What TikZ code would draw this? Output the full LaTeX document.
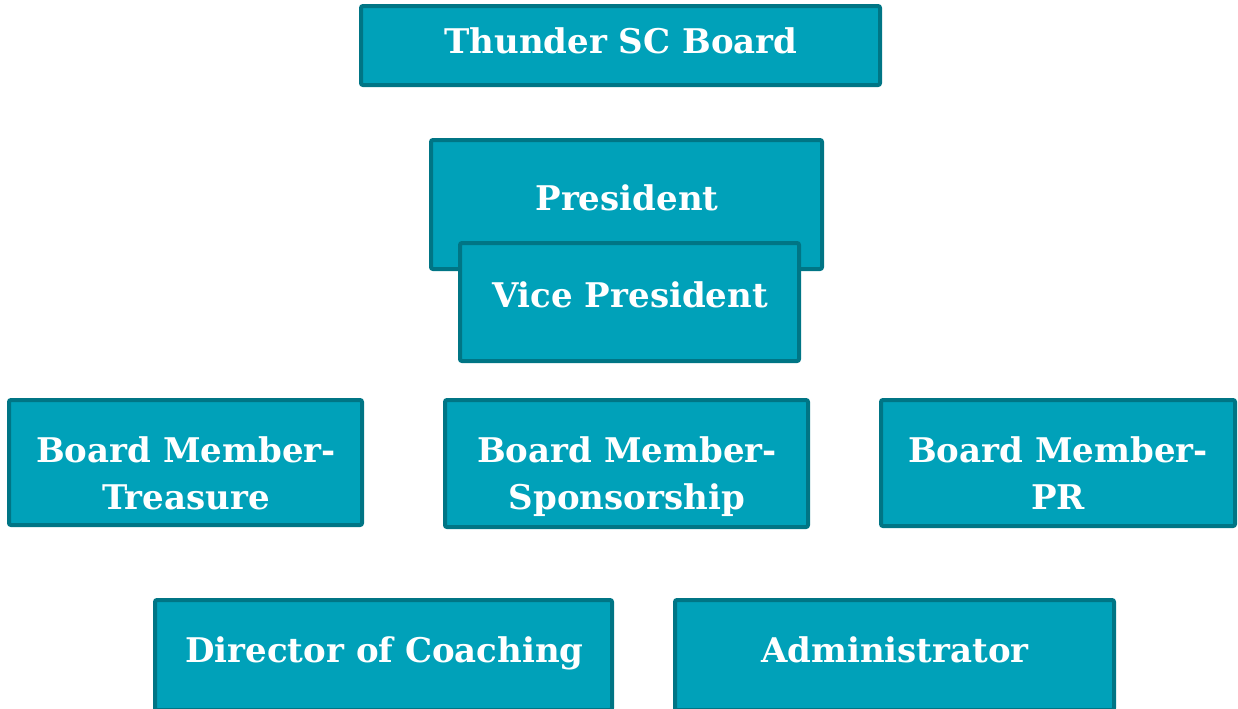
\documentclass[tikz,border=0pt]{standalone}
\usepackage{fontspec}
\setmainfont{DejaVu Serif}
\definecolor{boxfill}{HTML}{00A1B9}
\definecolor{boxline}{HTML}{007585}
\tikzset{
  orgbox/.style={draw=boxline, fill=boxfill, line width=2pt, rounded corners=1pt},
  orgtext/.style={text=white, font=\bfseries\fontsize{17}{23.5}\selectfont, align=center, anchor=base, inner sep=0pt}
}
\begin{document}
\begin{tikzpicture}[x=0.5pt, y=-0.5pt]
      \useasboundingbox (0,0) rectangle (1238,708);
      %
      \node[orgbox, minimum width=259.5pt, minimum height=39.5pt] (board) at (620.5,45.5) {};
      \node[orgbox, minimum width=195.5pt, minimum height=64.5pt] (pres) at (626.5,204.5) {};
      \node[orgbox, minimum width=169.5pt, minimum height=59pt] (vp) at (629.5,302) {};
      %
      \node[orgbox, minimum width=176.5pt, minimum height=62.5pt] (treas) at (185.5,462.5) {};
      \node[orgbox, minimum width=181.5pt, minimum height=63.5pt] (spons) at (626.5,463.5) {};
      \node[orgbox, minimum width=177pt, minimum height=63pt] (pr) at (1058,463) {};
      %
      \node[orgbox, minimum width=228.5pt, minimum height=55pt] (doc) at (383.5,655) {};
      \node[orgbox, minimum width=219.5pt, minimum height=55pt] (admin) at (894.5,655) {};
      %
      \node[orgtext] (board-t) at (621,53) {Thunder SC Board};
      \node[orgtext] (pres-t) at (627,210) {President};
      \node[orgtext] (vp-t) at (630,307) {Vice President};
      \node[orgtext] (treas-t) at (186,509) {Board Member-\\Treasure};
      \node[orgtext] (spons-t) at (627,509) {Board Member-\\Sponsorship};
      \node[orgtext] (pr-t) at (1058,509) {Board Member-\\PR};
      \node[orgtext] (doc-t) at (384.5,662) {Director of Coaching};
      \node[orgtext] (admin-t) at (895,662) {Administrator};
      %
\end{tikzpicture}
\end{document}
